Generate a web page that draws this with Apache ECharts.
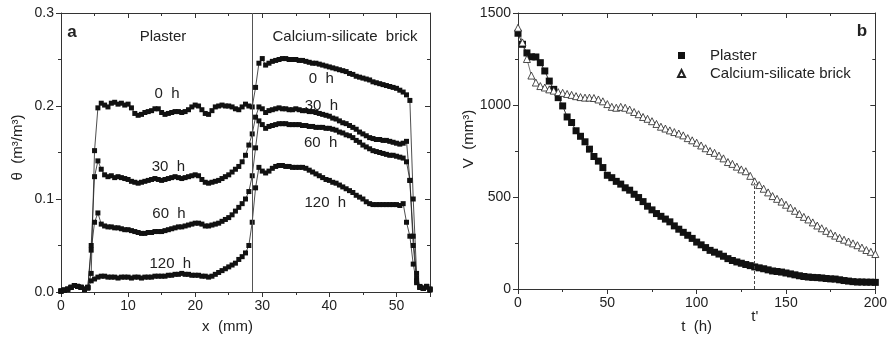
<!DOCTYPE html>
<html>
<head>
<meta charset="utf-8">
<script src="https://cdn.jsdelivr.net/npm/echarts@6/dist/echarts.min.js"></script>
<style>
  html, body { margin: 0; background: #fff; }
  #chart { width: 890px; height: 342px; }
</style>
</head>
<body>
<div id="chart"></div>
<script>
// panel a: moisture profiles, x in mm
const xPos = [
  0, 0.5, 1, 1.5, 2, 2.5, 3, 3.5, 4, 4.5,
  5, 5.5, 6, 6.5, 7, 7.5, 8, 8.5, 9, 9.5,
  10, 10.5, 11, 11.5, 12, 12.5, 13, 13.5, 14, 14.5,
  15, 15.5, 16, 16.5, 17, 17.5, 18, 18.5, 19, 19.5,
  20, 20.5, 21, 21.5, 22, 22.5, 23, 23.5, 24, 24.5,
  25, 25.5, 26, 26.5, 27, 27.5, 28, 28.5, 29, 29.5,
  30, 30.5, 31, 31.5, 32, 32.5, 33, 33.5, 34, 34.5,
  35, 35.5, 36, 36.5, 37, 37.5, 38, 38.5, 39, 39.5,
  40, 40.5, 41, 41.5, 42, 42.5, 43, 43.5, 44, 44.5,
  45, 45.5, 46, 46.5, 47, 47.5, 48, 48.5, 49, 49.5,
  50, 50.5, 51, 51.5, 52, 52.5, 53, 53.5, 54, 54.5,
  55
];
const theta0h = [
  0.001, 0.002, 0.003, 0.005, 0.007, 0.006, 0.005, 0.003, 0.005, 0.020,
  0.152, 0.198, 0.203, 0.201, 0.199, 0.203, 0.204, 0.202, 0.203, 0.201,
  0.202, 0.198, 0.192, 0.190, 0.191, 0.193, 0.194, 0.195, 0.197, 0.197,
  0.193, 0.191, 0.192, 0.193, 0.194, 0.194, 0.193, 0.194, 0.196, 0.199,
  0.201, 0.200, 0.196, 0.192, 0.191, 0.195, 0.199, 0.200, 0.201, 0.200,
  0.200, 0.199, 0.197, 0.196, 0.199, 0.202, 0.200, 0.199, 0.220, 0.246,
  0.251, 0.244, 0.246, 0.248, 0.249, 0.250, 0.251, 0.251, 0.250, 0.250,
  0.250, 0.249, 0.249, 0.248, 0.247, 0.246, 0.246, 0.245, 0.244, 0.243,
  0.242, 0.241, 0.240, 0.239, 0.238, 0.237, 0.235, 0.234, 0.232, 0.231,
  0.230, 0.229, 0.228, 0.226, 0.225, 0.224, 0.223, 0.222, 0.221, 0.220,
  0.219, 0.217, 0.215, 0.212, 0.206, 0.100, 0.020, 0.006, 0.004, 0.005,
  0.002
];
const theta30h = [
  0.001, 0.002, 0.003, 0.005, 0.007, 0.006, 0.005, 0.003, 0.005, 0.050,
  0.124, 0.141, 0.132, 0.126, 0.124, 0.125, 0.123, 0.124, 0.123, 0.122,
  0.121, 0.119, 0.118, 0.117, 0.118, 0.119, 0.120, 0.121, 0.122, 0.121,
  0.120, 0.121, 0.122, 0.123, 0.124, 0.123, 0.122, 0.123, 0.124, 0.125,
  0.126, 0.125, 0.121, 0.118, 0.117, 0.118, 0.119, 0.120, 0.122, 0.124,
  0.126, 0.129, 0.132, 0.135, 0.140, 0.147, 0.158, 0.170, 0.188, 0.199,
  0.197, 0.193, 0.195, 0.196, 0.197, 0.198, 0.197, 0.197, 0.196, 0.196,
  0.197, 0.196, 0.195, 0.195, 0.194, 0.194, 0.193, 0.192, 0.191, 0.190,
  0.189, 0.187, 0.186, 0.184, 0.182, 0.181, 0.179, 0.177, 0.175, 0.172,
  0.170, 0.168, 0.166, 0.165, 0.164, 0.164, 0.163, 0.163, 0.162, 0.161,
  0.160, 0.159, 0.160, 0.162, 0.120, 0.060, 0.015, 0.005, 0.004, 0.006,
  0.003
];
const theta60h = [
  0.001, 0.002, 0.003, 0.005, 0.007, 0.006, 0.005, 0.003, 0.005, 0.045,
  0.075, 0.085, 0.073, 0.071, 0.070, 0.070, 0.069, 0.069, 0.068, 0.067,
  0.067, 0.066, 0.065, 0.064, 0.063, 0.063, 0.064, 0.064, 0.065, 0.065,
  0.065, 0.066, 0.067, 0.068, 0.069, 0.070, 0.070, 0.071, 0.072, 0.073,
  0.074, 0.074, 0.073, 0.071, 0.071, 0.072, 0.073, 0.074, 0.076, 0.078,
  0.080, 0.083, 0.087, 0.091, 0.095, 0.100, 0.108, 0.125, 0.155, 0.184,
  0.180, 0.176, 0.178, 0.179, 0.180, 0.181, 0.181, 0.181, 0.180, 0.180,
  0.180, 0.180, 0.179, 0.179, 0.178, 0.178, 0.177, 0.177, 0.177, 0.176,
  0.176, 0.175, 0.174, 0.172, 0.171, 0.169, 0.168, 0.166, 0.163, 0.161,
  0.158, 0.156, 0.154, 0.152, 0.151, 0.150, 0.149, 0.148, 0.147, 0.147,
  0.146, 0.145, 0.144, 0.140, 0.120, 0.050, 0.012, 0.005, 0.004, 0.006,
  0.003
];
const theta120h = [
  0.001, 0.002, 0.003, 0.005, 0.007, 0.006, 0.005, 0.003, 0.004, 0.012,
  0.014, 0.016, 0.017, 0.017, 0.016, 0.016, 0.016, 0.015, 0.016, 0.016,
  0.016, 0.015, 0.016, 0.016, 0.015, 0.016, 0.016, 0.016, 0.017, 0.017,
  0.017, 0.017, 0.018, 0.018, 0.019, 0.019, 0.020, 0.019, 0.019, 0.018,
  0.018, 0.018, 0.017, 0.017, 0.016, 0.017, 0.019, 0.021, 0.023, 0.025,
  0.027, 0.029, 0.031, 0.035, 0.038, 0.042, 0.050, 0.075, 0.112, 0.134,
  0.130, 0.128, 0.130, 0.133, 0.135, 0.136, 0.136, 0.135, 0.135, 0.134,
  0.134, 0.134, 0.134, 0.133, 0.131, 0.129, 0.127, 0.125, 0.123, 0.121,
  0.120, 0.118, 0.117, 0.115, 0.113, 0.111, 0.109, 0.107, 0.104, 0.102,
  0.100, 0.097, 0.095, 0.094, 0.094, 0.094, 0.094, 0.094, 0.094, 0.094,
  0.094, 0.093, 0.095, 0.075, 0.060, 0.030, 0.010, 0.005, 0.004, 0.006,
  0.003
];
const interfaceX = 28.5;
const xTicksA = [0, 55, 10];
const yTicksA = [0, 0.3, 0.1];

// panel b: water volume over time
const tHours = [
  0, 2.5, 5, 7.5, 10, 12.5, 15, 17.5, 20, 22.5,
  25, 27.5, 30, 32.5, 35, 37.5, 40, 42.5, 45, 47.5,
  50, 52.5, 55, 57.5, 60, 62.5, 65, 67.5, 70, 72.5,
  75, 77.5, 80, 82.5, 85, 87.5, 90, 92.5, 95, 97.5,
  100, 102.5, 105, 107.5, 110, 112.5, 115, 117.5, 120, 122.5,
  125, 127.5, 130, 132.5, 135, 137.5, 140, 142.5, 145, 147.5,
  150, 152.5, 155, 157.5, 160, 162.5, 165, 167.5, 170, 172.5,
  175, 177.5, 180, 182.5, 185, 187.5, 190, 192.5, 195, 197.5,
  200
];
const vPlaster = [
  1390, 1330, 1283, 1262, 1261, 1230, 1185, 1130, 1085, 1040,
  995, 935, 905, 860, 830, 800, 760, 720, 695, 660,
  618, 605, 585, 570, 550, 537, 515, 497, 475, 450,
  430, 410, 395, 380, 365, 343, 325, 308, 292, 275,
  255, 240, 225, 210, 200, 190, 178, 165, 155, 147,
  140, 133, 127, 120, 115, 110, 104, 98, 95, 92,
  87, 82, 77, 72, 68, 65, 63, 62, 60, 57,
  55, 54, 50, 46, 43, 40, 38, 38, 37, 37,
  36
];
const vBrick = [
  1420, 1340, 1250, 1160, 1122, 1103, 1095, 1085, 1078, 1070,
  1066, 1060, 1055, 1048, 1043, 1040, 1040, 1038, 1030, 1020,
  1005, 990, 985, 990, 985, 975, 962, 950, 935, 925,
  912, 897, 882, 872, 862, 853, 845, 835, 820, 808,
  795, 780, 765, 750, 740, 725, 710, 690, 680, 665,
  650, 640, 615, 585, 565, 545, 525, 505, 490, 475,
  458, 442, 425, 408, 392, 378, 362, 345, 330, 316,
  303, 290, 278, 268, 258, 248, 238, 225, 212, 202,
  190
];
const tPrime = 132;
const vAtPrime = 578;
const xTicksB = [0, 200, 50];
const yTicksB = [0, 1500, 500];

const ink = '#222';
const frame = '#333';
const font = '"Liberation Sans", Arial, sans-serif';

function pairs(xs, ys) {
  return xs.map(function (x, i) { return [x, ys[i]]; });
}

// one axis of a closed frame; mirrored sides have ticks inside and no labels
function frameAxis(gridIndex, pos, range, mirrored, extra) {
  const ax = {
    gridIndex: gridIndex,
    type: 'value',
    position: pos,
    min: range[0],
    max: range[1],
    interval: range[2],
    axisLine: { show: true, onZero: false, lineStyle: { color: frame, width: 1 } },
    axisTick: { show: true, inside: mirrored, length: 5, lineStyle: { color: frame } },
    minorTick: { show: true, splitNumber: 2, length: 3, lineStyle: { color: frame } },
    axisLabel: {
      show: !mirrored, fontSize: 14, color: ink, fontFamily: font, margin: 7,
      formatter: function (v) { return String(v); }
    },
    splitLine: { show: false },
    minorSplitLine: { show: false }
  };
  return Object.assign(ax, extra || {});
}

function profile(name, data) {
  return {
    name: name,
    type: 'line',
    xAxisIndex: 0,
    yAxisIndex: 0,
    data: pairs(xPos, data),
    symbol: 'rect',
    symbolSize: 5,
    showSymbol: true,
    itemStyle: { color: '#111' },
    lineStyle: { color: '#222', width: 0.8 },
    emphasis: { disabled: true }
  };
}

const first = profile('0 h', theta0h);
first.markLine = {
  silent: true,
  symbol: 'none',
  label: { show: false },
  lineStyle: { color: '#555', type: 'solid', width: 1 },
  data: [{ xAxis: interfaceX }]
};

const option = {
  animation: false,
  backgroundColor: '#fff',
  textStyle: { fontFamily: font },
  grid: [
    { left: 61, right: 460, top: 13, bottom: 50 },
    { left: 518, right: 13, top: 13, bottom: 53 }
  ],
  xAxis: [
    frameAxis(0, 'bottom', xTicksA, false, {
      name: 'x  (mm)', nameLocation: 'middle', nameGap: 27,
      nameTextStyle: { fontSize: 15, color: ink, fontFamily: font, padding: [0, 36, 0, 0] },
      axisLabel: { show: true, fontSize: 14, color: ink, fontFamily: font, margin: 7, showMaxLabel: false }
    }),
    frameAxis(0, 'top', xTicksA, true),
    frameAxis(1, 'bottom', xTicksB, false, {
      name: 't  (h)', nameLocation: 'middle', nameGap: 30,
      nameTextStyle: { fontSize: 15, color: ink, fontFamily: font }
    }),
    frameAxis(1, 'top', xTicksB, true)
  ],
  yAxis: [
    frameAxis(0, 'left', yTicksA, false, {
      name: 'θ  (m³/m³)', nameLocation: 'middle', nameGap: 36,
      nameTextStyle: { fontSize: 15, color: ink, fontFamily: font, padding: [0, 0, 0, 10] },
      axisLabel: {
        show: true, fontSize: 14, color: ink, fontFamily: font, margin: 7,
        formatter: function (v) { return v.toFixed(1); }
      }
    }),
    frameAxis(0, 'right', yTicksA, true),
    frameAxis(1, 'left', yTicksB, false, {
      name: 'V  (mm³)', nameLocation: 'middle', nameGap: 41,
      nameTextStyle: { fontSize: 15, color: ink, fontFamily: font, padding: [0, 0, 0, 24] }
    }),
    frameAxis(1, 'right', yTicksB, true)
  ],
  legend: {
    left: 672,
    top: 43,
    orient: 'vertical',
    itemGap: 3,
    itemWidth: 7,
    itemHeight: 7,
    selectedMode: false,
    textStyle: { fontSize: 15, color: ink, fontFamily: font, padding: [0, 0, 0, 20] },
    data: [
      { name: 'Plaster', icon: 'rect' },
      { name: 'Calcium-silicate brick', icon: 'triangle' }
    ]
  },
  series: [
    first,
    profile('30 h', theta30h),
    profile('60 h', theta60h),
    profile('120 h', theta120h),
    {
      name: 'Plaster',
      type: 'line',
      xAxisIndex: 2,
      yAxisIndex: 2,
      data: pairs(tHours, vPlaster),
      symbol: 'rect',
      symbolSize: 7,
      showSymbol: true,
      itemStyle: { color: '#111' },
      lineStyle: { color: '#333', width: 1 },
      emphasis: { disabled: true }
    },
    {
      name: 'Calcium-silicate brick',
      type: 'line',
      xAxisIndex: 2,
      yAxisIndex: 2,
      z: 3,
      data: pairs(tHours, vBrick),
      symbol: 'triangle',
      symbolSize: 7,
      showSymbol: true,
      itemStyle: { color: '#fff', borderColor: '#222', borderWidth: 0.8 },
      lineStyle: { color: '#555', width: 0.8 },
      emphasis: { disabled: true },
      markLine: {
        silent: true,
        symbol: 'none',
        label: { show: false },
        lineStyle: { color: '#444', type: [3, 2], width: 1 },
        data: [[{ coord: [tPrime, 0] }, { coord: [tPrime, vAtPrime] }]]
      }
    }
  ]
};

const chart = echarts.init(document.getElementById('chart'));
chart.setOption(option);

// text annotations placed in data space
const curveNotes = [
  [15.8, 0.213, '0  h'], [16.0, 0.135, '30  h'], [16.1, 0.084, '60  h'], [16.3, 0.030, '120  h'],
  [38.8, 0.229, '0  h'], [38.8, 0.200, '30  h'], [38.7, 0.160, '60  h'], [39.4, 0.096, '120  h']
];

function note(x, y, text, size, bold) {
  return {
    type: 'text',
    x: x,
    y: y,
    silent: true,
    style: {
      text: text,
      fill: ink,
      font: (bold ? 'bold ' : '') + size + 'px ' + font,
      textAlign: 'center',
      textVerticalAlign: 'middle'
    }
  };
}

const graphics = curveNotes.map(function (n) {
  const p = chart.convertToPixel({ xAxisIndex: 0, yAxisIndex: 0 }, [n[0], n[1]]);
  return note(p[0], p[1], n[2], 15, false);
});
graphics.push(note(72, 32, 'a', 17, true));
graphics.push(note(163, 37, 'Plaster', 15, false));
graphics.push(note(345, 37, 'Calcium-silicate  brick', 15, false));
graphics.push(note(862, 31, 'b', 17, true));
const tp = chart.convertToPixel({ xAxisIndex: 2, yAxisIndex: 2 }, [tPrime, 0]);
graphics.push(note(tp[0] + 1, tp[1] + 28, "t'", 15, false));

chart.setOption({ graphic: graphics });
</script>
</body>
</html>
